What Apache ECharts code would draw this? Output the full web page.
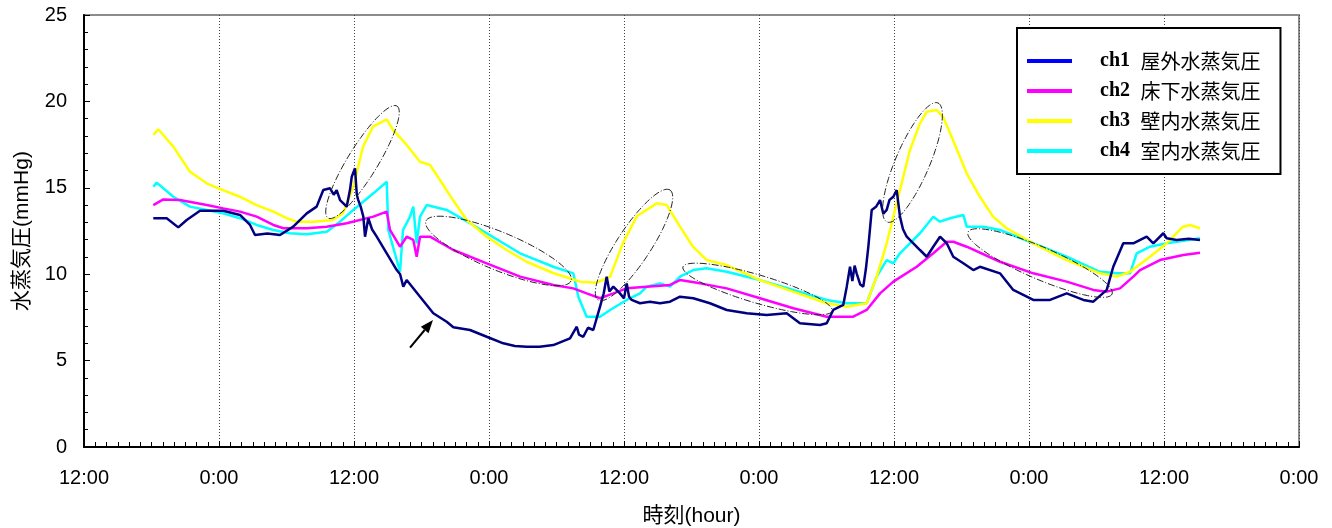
<!DOCTYPE html>
<html>
<head>
<meta charset="utf-8">
<script src="https://cdn.jsdelivr.net/npm/echarts@6/dist/echarts.min.js"></script>
<style>
html,body{margin:0;padding:0;background:#fff;}
#chart{width:1332px;height:528px;}
</style>
</head>
<body>
<div id="chart"></div>
<script>
// x = hours elapsed since the first 12:00 on the axis; y = vapour pressure (mmHg)
const seriesNames = ['ch1 屋外水蒸気圧', 'ch2 床下水蒸気圧', 'ch3 壁内水蒸気圧', 'ch4 室内水蒸気圧'];
const xTickLabels = ['12:00', '0:00'];

const ch1 = [
  [6.16,13.24],[7.35,13.24],[8.38,12.71],[9.13,13.14],[10.31,13.67],[12.38,13.67],[13.87,13.43],
  [14.76,12.85],[15.2,12.27],[16.3,12.35],[17.42,12.27],[18.6,12.75],[19.8,13.52],[20.68,13.91],
  [21.27,14.87],[21.87,14.97],[22.2,14.6],[22.46,14.87],[22.76,14.29],[23.35,13.91],[23.64,14.87],
  [23.8,15.64],[24.09,16.13],[24.25,14.6],[24.38,14.29],[24.6,13.9],[24.83,13.33],[24.98,12.17],
  [25.27,13.24],[25.6,12.6],[26.02,12.17],[26.91,11.21],[27.8,10.24],[28.1,10.0],[28.38,9.28],
  [28.68,9.66],[29.87,8.70],[31.05,7.74],[32.24,7.25],[32.83,6.93],[34.31,6.77],[35.8,6.38],
  [37.27,6.0],[38.3,5.85],[39.35,5.80],[40.5,5.8],[41.72,5.90],[43.2,6.29],[43.8,6.96],[44.0,6.5],
  [44.38,6.38],[44.8,6.9],[45.27,6.77],[45.87,8.12],[46.2,8.9],[46.46,9.86],[46.7,9.0],[47.05,9.28],
  [47.64,8.89],[48.0,8.6],[48.24,9.47],[48.45,8.7],[48.68,8.51],[49.42,8.32],[50.3,8.4],[51.2,8.32],
  [52.09,8.41],[52.98,8.70],[54.16,8.61],[55.64,8.32],[57.13,7.93],[58.91,7.74],[60.68,7.64],
  [62.46,7.74],[63.64,7.16],[65.42,7.06],[66.02,7.16],[66.6,7.93],[67.49,8.22],[67.8,9.28],
  [68.09,10.43],[68.3,9.6],[68.5,10.5],[68.68,10.05],[69.0,9.4],[69.27,9.28],[69.5,10.3],[69.72,11.6],
  [70.02,13.72],[70.4,13.9],[70.76,14.29],[71.05,13.5],[71.35,13.72],[71.6,14.3],[71.94,14.48],
  [72.24,14.87],[72.53,13.33],[72.8,12.6],[73.13,12.17],[73.72,11.79],[74.31,11.40],[74.91,11.01],
  [75.49,11.59],[76.09,12.17],[76.69,11.79],[77.27,11.01],[78.16,10.63],[79.05,10.24],[79.64,10.43],
  [81.42,10.05],[82.6,9.09],[84.38,8.51],[85.87,8.51],[87.35,8.89],[88.83,8.51],[89.72,8.41],
  [90.91,9.09],[91.49,10.43],[92.38,11.79],[93.27,11.79],[94.46,12.17],[95.05,11.79],[95.94,12.37],
  [96.24,12.08],[97.13,11.98],[98.2,12.05],[99.2,11.98]
];

const ch2 = [
  [6.16,14.0],[7.05,14.33],[8.53,14.29],[10.91,14.0],[12.38,13.81],[13.87,13.62],[15.35,13.33],
  [16.83,12.85],[17.72,12.66],[19.8,12.66],[21.57,12.75],[23.35,12.95],[25.72,13.33],[26.91,13.62],
  [27.2,12.56],[28.09,11.59],[28.68,12.17],[29.27,11.98],[29.57,11.01],[29.87,12.17],[30.76,12.17],
  [32.83,11.40],[35.8,10.63],[38.76,9.86],[41.72,9.38],[43.49,9.18],[44.68,8.89],[45.87,8.61],
  [47.05,8.89],[48.24,9.18],[50.02,9.28],[52.09,9.38],[52.98,9.66],[54.76,9.47],[57.13,9.18],
  [60.09,8.61],[63.05,8.03],[66.02,7.54],[68.38,7.54],[69.57,7.93],[70.76,8.89],[71.94,9.57],
  [74.02,10.43],[75.49,11.21],[76.69,11.88],[77.27,11.88],[78.46,11.59],[81.42,10.72],[84.38,10.05],
  [87.35,9.57],[89.72,9.09],[90.91,8.99],[92.09,9.18],[93.27,9.86],[93.87,10.24],[95.64,10.82],
  [97.72,11.11],[99.2,11.24]
];

const ch3 = [
  [6.16,18.06],[6.60,18.39],[7.94,17.38],[9.42,15.93],[10.91,15.26],[11.94,14.97],[13.87,14.48],
  [15.35,14.0],[16.83,13.62],[18.02,13.24],[18.91,13.04],[20.36,13.04],[22.13,13.14],[23.02,13.54],
  [23.94,15.06],[24.24,15.86],[24.8,17.38],[25.69,18.54],[26.91,18.96],[27.47,18.35],[28.68,17.48],
  [29.87,16.51],[30.76,16.32],[31.64,15.45],[32.8,14.29],[34.02,13.14],[35.8,12.17],[37.57,11.40],
  [39.35,10.72],[41.69,10.07],[44.09,9.57],[45.57,9.51],[46.76,9.86],[47.91,11.8],[49.13,13.35],
  [50.91,14.1],[51.8,14.0],[52.98,12.75],[54.13,11.59],[55.35,10.82],[57.13,10.53],[60.09,9.66],
  [63.02,8.99],[66.02,8.32],[67.8,8.12],[69.57,8.32],[70.46,9.86],[71.35,11.79],[72.53,14.87],
  [73.42,17.19],[74.31,18.73],[74.91,19.4],[75.8,19.5],[76.36,19.11],[77.24,17.77],[78.46,15.84],
  [79.64,14.48],[80.8,13.33],[82.02,12.66],[84.36,11.79],[87.35,10.82],[90.31,10.05],[91.8,9.86],
  [92.98,10.14],[94.76,11.01],[96.24,11.79],[97.69,12.75],[98.31,12.85],[99.2,12.66]
];

const ch4 = [
  [6.16,15.06],[6.46,15.30],[7.94,14.48],[9.42,13.91],[10.91,13.72],[12.38,13.52],[13.87,13.24],
  [15.35,12.85],[16.83,12.56],[18.31,12.37],[19.8,12.31],[21.57,12.46],[22.76,13.04],[23.94,13.72],
  [25.72,14.68],[26.91,15.35],[27.05,12.56],[28.09,10.14],[28.36,12.56],[28.98,13.33],[29.27,13.91],
  [29.57,11.79],[29.87,13.33],[30.46,14.0],[32.24,13.72],[34.31,12.95],[35.8,12.37],[38.76,11.21],
  [41.72,10.43],[43.49,10.05],[43.94,8.70],[44.68,7.54],[45.87,7.54],[46.76,7.93],[48.24,8.51],
  [49.42,8.89],[50.02,9.28],[51.2,9.47],[52.09,9.28],[52.98,9.86],[54.16,10.24],[55.35,10.34],
  [57.13,10.14],[60.09,9.66],[63.05,9.09],[66.02,8.51],[67.8,8.32],[69.57,8.32],[70.46,9.86],
  [71.35,10.82],[71.94,10.63],[72.53,11.21],[73.42,11.79],[74.31,12.37],[75.49,13.33],[76.09,13.04],
  [76.98,13.24],[78.16,13.43],[78.46,12.75],[79.94,12.75],[81.42,12.56],[84.38,11.79],[87.35,11.01],
  [90.31,10.14],[91.8,10.05],[92.98,10.05],[93.57,11.21],[94.76,11.59],[96.24,11.79],[99.2,12.08]
];

// annotation ellipses: major-axis end points in data units [x1, y1, x2, y2]
const ellipses = [
  [21.69,13.25,27.82,19.73],
  [30.4,13.08,43.29,9.61],
  [45.69,8.51,52.09,14.87],
  [53.24,10.42,66.49,7.87],
  [71.38,13.02,75.91,19.91],
  [78.58,12.44,91.38,8.85]
];
const ellipseMinorRadius = [15, 19, 17, 14, 17, 16];
// annotation arrow: tail -> head in data units
const arrow = [[28.98,5.75,31.02,7.35]];

const colors = ['#000080', '#ff00ff', '#ffff00', '#00ffff'];
const legendColors = ['#0000ff', '#ff00ff', '#ffff00', '#00ffff'];
const allData = [ch1, ch2, ch3, ch4];

const chart = echarts.init(document.getElementById('chart'), null, {renderer: 'canvas'});

const lineSeries = seriesNames.map((n, i) => ({
  name: n,
  type: 'line',
  data: allData[i],
  showSymbol: false,
  symbol: 'none',
  color: colors[i],
  lineStyle: {width: 2.5, color: colors[i]},
  z: 10 - i,
  animation: false
}));

function ellipseRender(params, api) {
  const p1 = api.coord([api.value(0), api.value(1)]);
  const p2 = api.coord([api.value(2), api.value(3)]);
  const cx = (p1[0] + p2[0]) / 2, cy = (p1[1] + p2[1]) / 2;
  const dx = p2[0] - p1[0], dy = p2[1] - p1[1];
  const a = Math.sqrt(dx * dx + dy * dy) / 2;
  const b = ellipseMinorRadius[params.dataIndex];
  const ang = Math.atan2(dy, dx);
  const pts = [];
  for (let k = 0; k <= 90; k++) {
    const t = k / 90 * Math.PI * 2;
    const ex = a * Math.cos(t), ey = b * Math.sin(t);
    pts.push([cx + ex * Math.cos(ang) - ey * Math.sin(ang), cy + ex * Math.sin(ang) + ey * Math.cos(ang)]);
  }
  return {
    type: 'polyline',
    shape: {points: pts},
    style: {fill: null, stroke: '#222', lineWidth: 1, lineDash: [7, 2, 1, 2]}
  };
}

function arrowRender(params, api) {
  const p1 = api.coord([api.value(0), api.value(1)]);
  const p2 = api.coord([api.value(2), api.value(3)]);
  const ang = Math.atan2(p2[1] - p1[1], p2[0] - p1[0]);
  const L = 13, W = 5;
  const bx = p2[0] - L * Math.cos(ang), by = p2[1] - L * Math.sin(ang);
  return {
    type: 'group',
    children: [
      {type: 'line', shape: {x1: p1[0], y1: p1[1], x2: bx, y2: by}, style: {stroke: '#000', lineWidth: 2}},
      {type: 'polygon', shape: {points: [
        [p2[0], p2[1]],
        [bx + W * Math.sin(ang), by - W * Math.cos(ang)],
        [bx - W * Math.sin(ang), by + W * Math.cos(ang)]
      ]}, style: {fill: '#000'}}
    ]
  };
}

const option = {
  animation: false,
  backgroundColor: '#fff',
  grid: {left: 84, right: 33, top: 15, bottom: 81, show: true, borderColor: '#8c8c8c', borderWidth: 2,
         containLabel: false, outerBoundsMode: 'none'},
  legend: {
    show: true,
    orient: 'vertical',
    left: 1017,
    top: 28,
    padding: [23, 20, 13, 10],
    backgroundColor: '#fff',
    borderColor: '#000',
    borderWidth: 2,
    icon: 'rect',
    itemWidth: 45,
    itemHeight: 4,
    itemGap: 10,
    data: seriesNames.map((n, i) => ({name: n, icon: 'rect', itemStyle: {color: legendColors[i]}})),
    formatter: function (name) {
      const sp = name.indexOf(' ');
      return '{a|' + name.slice(0, sp) + '}{b|' + name.slice(sp) + '}';
    },
    textStyle: {
      padding: [0, 0, 0, 23],
      rich: {
        a: {fontFamily: 'Liberation Serif', fontWeight: 'bold', fontSize: 20, color: '#000', lineHeight: 21},
        b: {fontFamily: 'Noto Sans CJK JP', fontSize: 20, color: '#000', lineHeight: 21, padding: [0, 0, 0, 6]}
      }
    }
  },
  xAxis: {
    type: 'value',
    min: 0,
    max: 108,
    interval: 12,
    name: '時刻(hour)',
    nameLocation: 'middle',
    nameGap: 59,
    nameTextStyle: {fontFamily: 'Liberation Sans, Noto Sans CJK JP', fontSize: 21, color: '#000'},
    axisLine: {lineStyle: {color: '#000', width: 2}},
    axisTick: {show: true, inside: true, length: 6, lineStyle: {color: '#000', width: 1}},
    minorTick: {show: true, splitNumber: 12, length: 5, lineStyle: {color: '#000', width: 1}},
    axisLabel: {
      margin: 21,
      fontFamily: 'Liberation Sans',
      fontSize: 20,
      color: '#000',
      formatter: v => xTickLabels[(Math.round(v / 12)) % 2]
    },
    splitLine: {show: true, lineStyle: {color: '#444', width: 1, type: [1, 2]}}
  },
  yAxis: {
    type: 'value',
    min: 0,
    max: 25,
    interval: 5,
    name: '水蒸気圧(mmHg)',
    nameLocation: 'middle',
    nameGap: 51,
    nameTextStyle: {fontFamily: 'Liberation Sans, Noto Sans CJK JP', fontSize: 21, color: '#000'},
    axisLine: {show: true, lineStyle: {color: '#000', width: 2}},
    axisTick: {show: true, inside: true, length: 6, lineStyle: {color: '#000', width: 1}},
    minorTick: {show: true, splitNumber: 5, length: 4, lineStyle: {color: '#000', width: 1}},
    axisLabel: {margin: 17, fontFamily: 'Liberation Sans', fontSize: 20, color: '#000'},
    splitLine: {show: false}
  },
  series: lineSeries.concat([
    {
      type: 'custom',
      name: 'ellipses',
      renderItem: ellipseRender,
      data: ellipses,
      encode: {x: [0, 2], y: [1, 3]},
      silent: true,
      z: 20,
      animation: false
    },
    {
      type: 'custom',
      name: 'arrow',
      renderItem: arrowRender,
      data: arrow,
      encode: {x: [0, 2], y: [1, 3]},
      silent: true,
      z: 20,
      animation: false
    }
  ])
};
chart.setOption(option);
</script>
</body>
</html>
